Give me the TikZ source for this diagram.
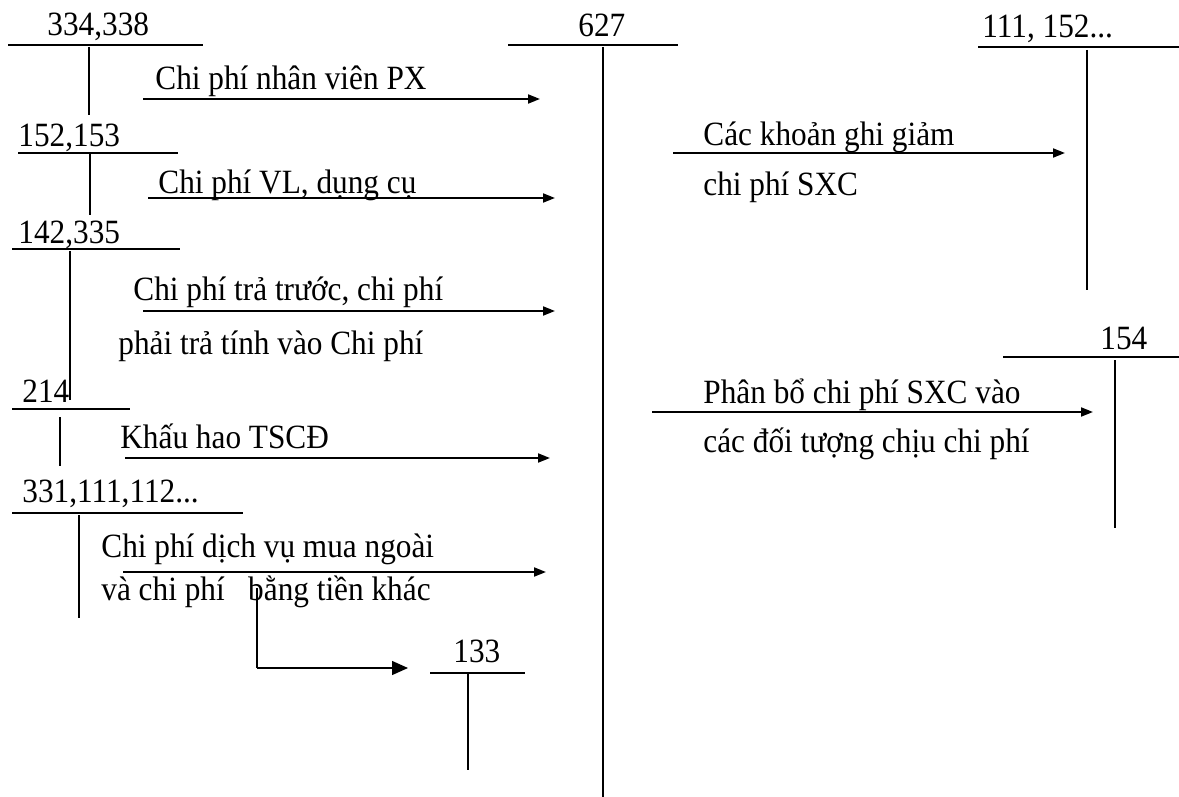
\documentclass[tikz,border=0pt]{standalone}
\usepackage{fontspec}
\setmainfont{Liberation Serif}[FakeStretch=0.92]
\usetikzlibrary{arrows.meta}

\begin{document}
\begin{tikzpicture}[x=0.5pt,y=-0.5pt,font=\fontsize{17}{20}\selectfont,
  acct/.style={inner sep=0pt,anchor=base west},
  txt/.style={inner sep=0pt,anchor=base west},
  tline/.style={line width=1pt},
  flow/.style={line width=0.9pt,-{Triangle[length=6pt,width=4.5pt]}}]
\useasboundingbox (0,0) rectangle (1179,797);
% accounts on the left
\node[acct] (a334) at (47,36) {334,338};
\draw[tline] (8,45) -- (203,45); \draw[tline] (89,47) -- (89,115);
\node[acct] (a152) at (18,147) {152,153};
\draw[tline] (18,153) -- (178,153); \draw[tline] (90,153) -- (90,215);
\node[acct] (a142) at (18,243) {142,335};
\draw[tline] (12,249) -- (180,249); \draw[tline] (70,251) -- (70,400);
\node[acct] (a214) at (22,402) {214};
\draw[tline] (12,409) -- (130,409); \draw[tline] (60,417) -- (60,466);
\node[acct] (a331) at (22,502) {331,111,112...};
\draw[tline] (12,513) -- (243,513); \draw[tline] (79,515) -- (79,618);
% main account and the others
\node[acct] (a627) at (578,37) {627};
\draw[tline] (508,45) -- (678,45); \draw[tline] (603,47) -- (603,797);
\node[acct] (a111) at (982,38) {111, 152...};
\draw[tline] (978,47) -- (1179,47); \draw[tline] (1087,50) -- (1087,290);
\node[acct] (a154) at (1100,349) {154};
\draw[tline] (1003,357) -- (1179,357); \draw[tline] (1115,360) -- (1115,528);
\node[acct] (a133) at (453,662) {133};
\draw[line width=0.7pt] (430,673) -- (525,673); \draw[line width=0.7pt] (468,673) -- (468,770);
% descriptions
\node[txt] (t1) at (155,90) {Chi phí nhân viên PX};
\node[txt] (t2) at (158,193) {Chi phí VL, dụng cụ};
\node[txt] (t3) at (133,300) {Chi phí trả trước, chi phí};
\node[txt] (t3b) at (118,354) {phải trả tính vào Chi phí};
\node[txt] (t4) at (120,448) {Khấu hao TSCĐ};
\node[txt] (t5) at (101,557) {Chi phí dịch vụ mua ngoài};
\node[txt] (t5b) at (101,600) {và chi phí\ \ \ bằng tiền khác};
\node[txt] (t6) at (703,146) {Các khoản ghi giảm};
\node[txt] (t6b) at (703,196) {chi phí SXC};
\node[txt] (t7) at (703,403) {Phân bổ chi phí SXC vào};
\node[txt] (t7b) at (703,452) {các đối tượng chịu chi phí};
% arrows
\coordinate (f1a) at (143,99);  \coordinate (f1b) at (540,99);
\coordinate (f2a) at (148,198); \coordinate (f2b) at (555,198);
\coordinate (f3a) at (143,311); \coordinate (f3b) at (555,311);
\coordinate (f4a) at (125,458); \coordinate (f4b) at (550,458);
\coordinate (f5a) at (123,572); \coordinate (f5b) at (546,572);
\coordinate (f6a) at (673,153); \coordinate (f6b) at (1065,153);
\coordinate (f7a) at (652,412); \coordinate (f7b) at (1093,412);
\coordinate (v1) at (257,588); \coordinate (v2) at (257,668); \coordinate (v3) at (408,668);
\foreach \s/\e in {f1a/f1b,f2a/f2b,f3a/f3b,f4a/f4b,f5a/f5b,f6a/f6b,f7a/f7b}
  \draw[flow] (\s) -- (\e);
\draw[line width=0.7pt] (v1) -- (v2);
\draw[line width=0.7pt,-{Triangle[length=8pt,width=7pt]}] (v2) -- (v3);
\end{tikzpicture}
\end{document}
